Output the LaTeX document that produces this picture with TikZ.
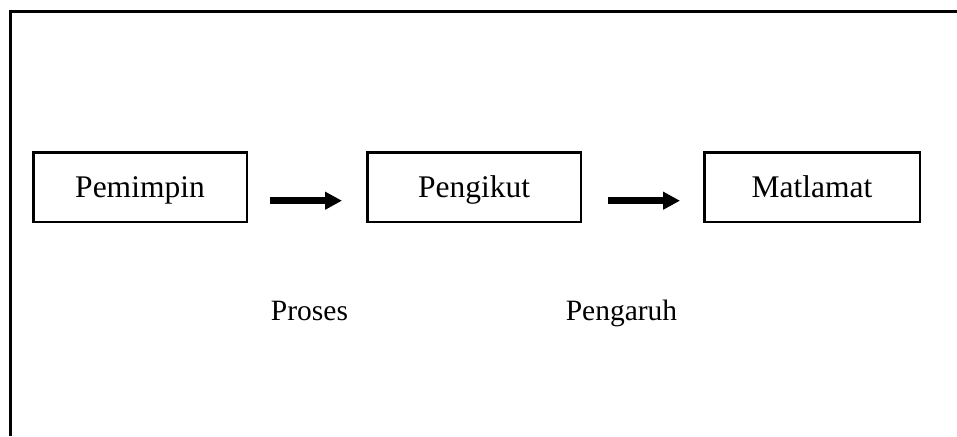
\documentclass[tikz,border=0pt]{standalone}
\usepackage{fontspec}
\setmainfont{Liberation Serif}
\usetikzlibrary{arrows.meta}

\tikzset{
  frameline/.style={line width=2.5pt, line join=miter},
  stagebox/.style={draw, line width=2.5pt, inner sep=0pt,
    minimum width=213.5pt, minimum height=69.5pt,
    text height=24pt, text depth=4pt,
    font=\fontsize{31.5}{36}\selectfont},
  flowarrow/.style={line width=6.5pt,
    -{Triangle[length=17pt, width=17pt]}},
  steplabel/.style={anchor=base, inner sep=0pt,
    font=\fontsize{29.5}{34}\selectfont}
}

\begin{document}
\begin{tikzpicture}[x=1pt, y=-1pt]
  \useasboundingbox (0,0) rectangle (957,436);

  % open frame: top and left edges
  \draw[frameline] (957,11.3) -- (10.3,11.3) -- (10.3,436);

  % the three stages
  \node[stagebox] (leader) at (140,187) {Pemimpin};
  \node[stagebox] (follower) at (474,187) {Pengikut};
  \node[stagebox, minimum width=215.5pt] (goal) at (812,187) {Matlamat};

  % arrows between stages
  \draw[flowarrow] ([shift={(22,13.7)}]leader.east) -- ([shift={(-24,13.7)}]follower.west);
  \draw[flowarrow] ([shift={(26,13.7)}]follower.east) -- ([shift={(-23,13.7)}]goal.west);

  % labels under the arrows
  \node[steplabel] (process) at (309.5,320) {Proses};
  \node[steplabel] (influence) at (621.5,320) {Pengaruh};
\end{tikzpicture}
\end{document}
